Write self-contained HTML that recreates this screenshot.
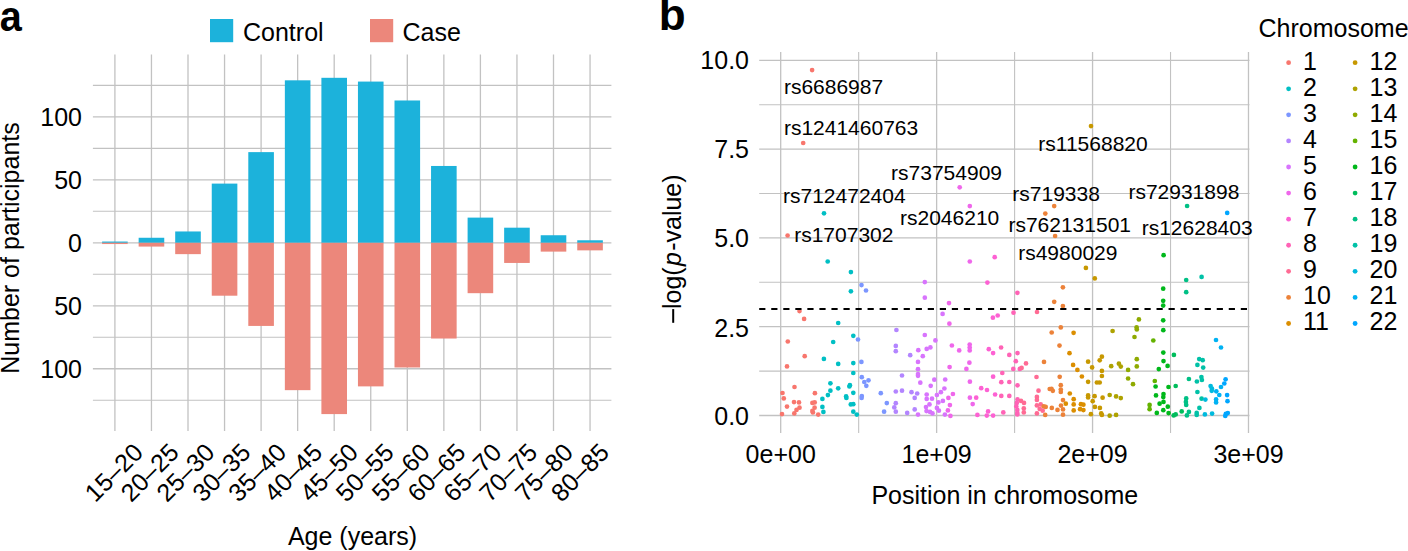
<!DOCTYPE html>
<html><head><meta charset="utf-8"><style>
html,body{margin:0;padding:0;background:#fff;}
svg{display:block;}
text{font-family:"Liberation Sans",sans-serif;fill:#000;}
</style></head><body>
<svg width="1408" height="551" viewBox="0 0 1408 551">
<rect width="1408" height="551" fill="#fff"/>
<path d="M92.9 85.36H611.4 M92.9 148.34H611.4 M92.9 211.31H611.4 M92.9 274.29H611.4 M92.9 337.26H611.4 M92.9 400.24H611.4" stroke="#C2C2C2" stroke-width="1.1" fill="none"/>
<path d="M92.9 116.85H611.4 M92.9 179.83H611.4 M92.9 242.80H611.4 M92.9 305.78H611.4 M92.9 368.75H611.4 M114.90 54.4V430.9 M151.45 54.4V430.9 M188.00 54.4V430.9 M224.55 54.4V430.9 M261.10 54.4V430.9 M297.65 54.4V430.9 M334.20 54.4V430.9 M370.75 54.4V430.9 M407.30 54.4V430.9 M443.85 54.4V430.9 M480.40 54.4V430.9 M516.95 54.4V430.9 M553.50 54.4V430.9 M590.05 54.4V430.9" stroke="#C2C2C2" stroke-width="1.3" fill="none"/>
<rect x="102.10" y="241.54" width="25.6" height="1.26" fill="#1CB2DB"/>
<rect x="102.10" y="242.80" width="25.6" height="1.26" fill="#EC877B"/>
<rect x="138.65" y="237.76" width="25.6" height="5.04" fill="#1CB2DB"/>
<rect x="138.65" y="242.80" width="25.6" height="3.78" fill="#EC877B"/>
<rect x="175.20" y="231.46" width="25.6" height="11.34" fill="#1CB2DB"/>
<rect x="175.20" y="242.80" width="25.6" height="11.34" fill="#EC877B"/>
<rect x="211.75" y="183.60" width="25.6" height="59.20" fill="#1CB2DB"/>
<rect x="211.75" y="242.80" width="25.6" height="52.90" fill="#EC877B"/>
<rect x="248.30" y="152.12" width="25.6" height="90.68" fill="#1CB2DB"/>
<rect x="248.30" y="242.80" width="25.6" height="83.13" fill="#EC877B"/>
<rect x="284.85" y="80.32" width="25.6" height="162.48" fill="#1CB2DB"/>
<rect x="284.85" y="242.80" width="25.6" height="147.36" fill="#EC877B"/>
<rect x="321.40" y="77.81" width="25.6" height="164.99" fill="#1CB2DB"/>
<rect x="321.40" y="242.80" width="25.6" height="171.29" fill="#EC877B"/>
<rect x="357.95" y="81.58" width="25.6" height="161.22" fill="#1CB2DB"/>
<rect x="357.95" y="242.80" width="25.6" height="143.58" fill="#EC877B"/>
<rect x="394.50" y="100.48" width="25.6" height="142.32" fill="#1CB2DB"/>
<rect x="394.50" y="242.80" width="25.6" height="124.69" fill="#EC877B"/>
<rect x="431.05" y="165.97" width="25.6" height="76.83" fill="#1CB2DB"/>
<rect x="431.05" y="242.80" width="25.6" height="95.72" fill="#EC877B"/>
<rect x="467.60" y="217.61" width="25.6" height="25.19" fill="#1CB2DB"/>
<rect x="467.60" y="242.80" width="25.6" height="50.38" fill="#EC877B"/>
<rect x="504.15" y="227.69" width="25.6" height="15.11" fill="#1CB2DB"/>
<rect x="504.15" y="242.80" width="25.6" height="20.15" fill="#EC877B"/>
<rect x="540.70" y="235.24" width="25.6" height="7.56" fill="#1CB2DB"/>
<rect x="540.70" y="242.80" width="25.6" height="8.82" fill="#EC877B"/>
<rect x="577.25" y="240.28" width="25.6" height="2.52" fill="#1CB2DB"/>
<rect x="577.25" y="242.80" width="25.6" height="7.56" fill="#EC877B"/>
<text x="82.00" y="125.65" font-size="25" text-anchor="end" >100</text>
<text x="82.00" y="188.63" font-size="25" text-anchor="end" >50</text>
<text x="82.00" y="251.60" font-size="25" text-anchor="end" >0</text>
<text x="82.00" y="314.58" font-size="25" text-anchor="end" >50</text>
<text x="82.00" y="377.55" font-size="25" text-anchor="end" >100</text>
<text x="144.50" y="454.00" font-size="25" text-anchor="end" transform="rotate(-45 144.50 454.00)">15–20</text>
<text x="180.35" y="454.00" font-size="25" text-anchor="end" transform="rotate(-45 180.35 454.00)">20–25</text>
<text x="216.20" y="454.00" font-size="25" text-anchor="end" transform="rotate(-45 216.20 454.00)">25–30</text>
<text x="252.05" y="454.00" font-size="25" text-anchor="end" transform="rotate(-45 252.05 454.00)">30–35</text>
<text x="287.90" y="454.00" font-size="25" text-anchor="end" transform="rotate(-45 287.90 454.00)">35–40</text>
<text x="323.75" y="454.00" font-size="25" text-anchor="end" transform="rotate(-45 323.75 454.00)">40–45</text>
<text x="359.60" y="454.00" font-size="25" text-anchor="end" transform="rotate(-45 359.60 454.00)">45–50</text>
<text x="395.45" y="454.00" font-size="25" text-anchor="end" transform="rotate(-45 395.45 454.00)">50–55</text>
<text x="431.30" y="454.00" font-size="25" text-anchor="end" transform="rotate(-45 431.30 454.00)">55–60</text>
<text x="467.15" y="454.00" font-size="25" text-anchor="end" transform="rotate(-45 467.15 454.00)">60–65</text>
<text x="503.00" y="454.00" font-size="25" text-anchor="end" transform="rotate(-45 503.00 454.00)">65–70</text>
<text x="538.85" y="454.00" font-size="25" text-anchor="end" transform="rotate(-45 538.85 454.00)">70–75</text>
<text x="574.70" y="454.00" font-size="25" text-anchor="end" transform="rotate(-45 574.70 454.00)">75–80</text>
<text x="610.55" y="454.00" font-size="25" text-anchor="end" transform="rotate(-45 610.55 454.00)">80–85</text>
<text x="352.50" y="544.70" font-size="25" text-anchor="middle" >Age (years)</text>
<text x="19.0" y="248" font-size="25" text-anchor="middle" transform="rotate(-90 19.0 248)">Number of participants</text>
<rect x="210" y="19" width="23.2" height="23.2" fill="#1CB2DB"/>
<text x="243.00" y="41.00" font-size="25" text-anchor="start" >Control</text>
<rect x="370" y="19" width="23.2" height="23.2" fill="#EC877B"/>
<text x="402.50" y="41.00" font-size="25" text-anchor="start" >Case</text>
<text x="0" y="0" font-size="44" font-weight="bold" transform="translate(-0.3,30.9) scale(0.9,0.98)">a</text>
<path d="M759.2 371.10H1249.5 M759.2 282.30H1249.5 M759.2 193.50H1249.5 M759.2 104.70H1249.5 M858.67 52.0V432.9 M1014.60 52.0V432.9 M1170.53 52.0V432.9" stroke="#C2C2C2" stroke-width="1.1" fill="none"/>
<path d="M759.2 415.50H1249.5 M759.2 326.70H1249.5 M759.2 237.90H1249.5 M759.2 149.10H1249.5 M759.2 60.30H1249.5 M780.70 52.0V432.9 M936.63 52.0V432.9 M1092.56 52.0V432.9 M1248.49 52.0V432.9" stroke="#C2C2C2" stroke-width="1.3" fill="none"/>
<text x="749.00" y="425.35" font-size="25" text-anchor="end" >0.0</text>
<text x="749.00" y="336.55" font-size="25" text-anchor="end" >2.5</text>
<text x="749.00" y="246.50" font-size="25" text-anchor="end" >5.0</text>
<text x="749.00" y="157.70" font-size="25" text-anchor="end" >7.5</text>
<text x="749.00" y="68.90" font-size="25" text-anchor="end" >10.0</text>
<text x="780.70" y="463.40" font-size="25" text-anchor="middle" >0e+00</text>
<text x="936.63" y="463.40" font-size="25" text-anchor="middle" >1e+09</text>
<text x="1092.56" y="463.40" font-size="25" text-anchor="middle" >2e+09</text>
<text x="1248.49" y="463.40" font-size="25" text-anchor="middle" >3e+09</text>
<text x="1004.80" y="503.60" font-size="25" text-anchor="middle" >Position in chromosome</text>
<rect x="672.2" y="309.1" width="2" height="13.7" fill="#000"/>
<text x="681" y="309" font-size="25" text-anchor="start" transform="rotate(-90 681 309)">log(<tspan font-style="italic" dx="1.3">p</tspan><tspan dx="1.3">-value)</tspan></text>
<text x="658.70" y="30.00" font-size="44" text-anchor="start" font-weight="bold">b</text>
<circle cx="812.1" cy="70.1" r="2.35" fill="#F8766D"/>
<circle cx="803.2" cy="143.0" r="2.35" fill="#F8766D"/>
<circle cx="1091.0" cy="126.1" r="2.35" fill="#C79800"/>
<circle cx="959.7" cy="187.3" r="2.35" fill="#EF67EB"/>
<circle cx="969.8" cy="206.1" r="2.35" fill="#EF67EB"/>
<circle cx="824.0" cy="213.3" r="2.35" fill="#00BFC4"/>
<circle cx="787.6" cy="235.5" r="2.35" fill="#F8766D"/>
<circle cx="1054.2" cy="206.1" r="2.35" fill="#EC8239"/>
<circle cx="1045.3" cy="213.6" r="2.35" fill="#EC8239"/>
<circle cx="1055.1" cy="236.0" r="2.35" fill="#EC8239"/>
<circle cx="1187.1" cy="206.0" r="2.35" fill="#00C085"/>
<circle cx="1227.2" cy="212.9" r="2.35" fill="#00A6FF"/>
<circle cx="827.7" cy="261.5" r="2.35" fill="#00BFC4"/>
<circle cx="850.9" cy="272.1" r="2.35" fill="#00BFC4"/>
<circle cx="850.9" cy="291.3" r="2.35" fill="#00BFC4"/>
<circle cx="861.5" cy="285.1" r="2.35" fill="#7C96FF"/>
<circle cx="866.0" cy="290.5" r="2.35" fill="#7C96FF"/>
<circle cx="924.8" cy="282.1" r="2.35" fill="#D874FD"/>
<circle cx="924.8" cy="297.7" r="2.35" fill="#D874FD"/>
<circle cx="799.5" cy="311.1" r="2.35" fill="#F8766D"/>
<circle cx="804.1" cy="318.9" r="2.35" fill="#F8766D"/>
<circle cx="838.2" cy="323.0" r="2.35" fill="#00BFC4"/>
<circle cx="949.0" cy="303.1" r="2.35" fill="#EF67EB"/>
<circle cx="942.6" cy="313.9" r="2.35" fill="#D874FD"/>
<circle cx="949.4" cy="323.7" r="2.35" fill="#EF67EB"/>
<circle cx="969.8" cy="261.5" r="2.35" fill="#EF67EB"/>
<circle cx="994.7" cy="257.2" r="2.35" fill="#FD61D3"/>
<circle cx="987.4" cy="282.6" r="2.35" fill="#FD61D3"/>
<circle cx="992.9" cy="317.7" r="2.35" fill="#FD61D3"/>
<circle cx="997.7" cy="315.5" r="2.35" fill="#FD61D3"/>
<circle cx="1085.9" cy="267.9" r="2.35" fill="#C79800"/>
<circle cx="1094.8" cy="278.4" r="2.35" fill="#C79800"/>
<circle cx="1062.9" cy="287.3" r="2.35" fill="#EC8239"/>
<circle cx="1017.4" cy="292.8" r="2.35" fill="#FF63B6"/>
<circle cx="1054.2" cy="301.8" r="2.35" fill="#EC8239"/>
<circle cx="1062.9" cy="306.1" r="2.35" fill="#EC8239"/>
<circle cx="1013.5" cy="312.7" r="2.35" fill="#FF63B6"/>
<circle cx="1037.0" cy="312.0" r="2.35" fill="#FF6B94"/>
<circle cx="1163.6" cy="255.2" r="2.35" fill="#00B81B"/>
<circle cx="1163.2" cy="288.7" r="2.35" fill="#00B81B"/>
<circle cx="1163.2" cy="300.8" r="2.35" fill="#00B81B"/>
<circle cx="1163.2" cy="305.6" r="2.35" fill="#00B81B"/>
<circle cx="1163.2" cy="320.3" r="2.35" fill="#00B81B"/>
<circle cx="1138.9" cy="319.4" r="2.35" fill="#8FAA00"/>
<circle cx="1136.6" cy="327.4" r="2.35" fill="#8FAA00"/>
<circle cx="1186.2" cy="280.0" r="2.35" fill="#00C085"/>
<circle cx="1201.6" cy="276.9" r="2.35" fill="#00C1A7"/>
<circle cx="1186.2" cy="292.2" r="2.35" fill="#00C085"/>
<circle cx="1060.8" cy="327.4" r="2.35" fill="#EC8239"/>
<circle cx="896.4" cy="330.0" r="2.35" fill="#B385FF"/>
<circle cx="853.3" cy="335.8" r="2.35" fill="#00BFC4"/>
<circle cx="858.0" cy="339.5" r="2.35" fill="#7C96FF"/>
<circle cx="787.8" cy="341.5" r="2.35" fill="#F8766D"/>
<circle cx="833.2" cy="342.0" r="2.35" fill="#00BFC4"/>
<circle cx="895.8" cy="345.9" r="2.35" fill="#B385FF"/>
<circle cx="895.8" cy="351.2" r="2.35" fill="#B385FF"/>
<circle cx="910.2" cy="355.2" r="2.35" fill="#B385FF"/>
<circle cx="804.7" cy="356.2" r="2.35" fill="#F8766D"/>
<circle cx="823.9" cy="358.9" r="2.35" fill="#00BFC4"/>
<circle cx="838.2" cy="363.9" r="2.35" fill="#00BFC4"/>
<circle cx="853.3" cy="363.1" r="2.35" fill="#00BFC4"/>
<circle cx="861.4" cy="361.9" r="2.35" fill="#7C96FF"/>
<circle cx="787.0" cy="366.4" r="2.35" fill="#F8766D"/>
<circle cx="924.8" cy="335.0" r="2.35" fill="#D874FD"/>
<circle cx="935.4" cy="340.4" r="2.35" fill="#D874FD"/>
<circle cx="918.3" cy="350.2" r="2.35" fill="#D874FD"/>
<circle cx="926.7" cy="348.9" r="2.35" fill="#D874FD"/>
<circle cx="930.4" cy="347.4" r="2.35" fill="#D874FD"/>
<circle cx="922.8" cy="356.2" r="2.35" fill="#D874FD"/>
<circle cx="918.0" cy="361.9" r="2.35" fill="#D874FD"/>
<circle cx="918.0" cy="369.2" r="2.35" fill="#D874FD"/>
<circle cx="951.9" cy="345.5" r="2.35" fill="#EF67EB"/>
<circle cx="959.2" cy="350.4" r="2.35" fill="#EF67EB"/>
<circle cx="969.7" cy="344.5" r="2.35" fill="#EF67EB"/>
<circle cx="969.7" cy="347.5" r="2.35" fill="#EF67EB"/>
<circle cx="969.7" cy="350.4" r="2.35" fill="#EF67EB"/>
<circle cx="969.4" cy="362.7" r="2.35" fill="#EF67EB"/>
<circle cx="949.6" cy="367.1" r="2.35" fill="#EF67EB"/>
<circle cx="966.4" cy="368.9" r="2.35" fill="#EF67EB"/>
<circle cx="988.8" cy="349.2" r="2.35" fill="#FD61D3"/>
<circle cx="993.1" cy="353.1" r="2.35" fill="#FD61D3"/>
<circle cx="1001.1" cy="347.5" r="2.35" fill="#FF63B6"/>
<circle cx="1009.3" cy="354.9" r="2.35" fill="#FF63B6"/>
<circle cx="1017.5" cy="353.1" r="2.35" fill="#FF63B6"/>
<circle cx="1015.8" cy="361.2" r="2.35" fill="#FF63B6"/>
<circle cx="1026.0" cy="363.4" r="2.35" fill="#FF6B94"/>
<circle cx="1013.3" cy="368.9" r="2.35" fill="#FF63B6"/>
<circle cx="1019.8" cy="368.9" r="2.35" fill="#FF63B6"/>
<circle cx="1021.6" cy="367.9" r="2.35" fill="#FF6B94"/>
<circle cx="1044.0" cy="361.9" r="2.35" fill="#EC8239"/>
<circle cx="1051.7" cy="332.5" r="2.35" fill="#EC8239"/>
<circle cx="1073.6" cy="332.8" r="2.35" fill="#DB8E00"/>
<circle cx="1059.5" cy="345.6" r="2.35" fill="#EC8239"/>
<circle cx="1069.5" cy="353.2" r="2.35" fill="#DB8E00"/>
<circle cx="1073.1" cy="364.9" r="2.35" fill="#DB8E00"/>
<circle cx="1077.4" cy="369.9" r="2.35" fill="#DB8E00"/>
<circle cx="1088.1" cy="361.7" r="2.35" fill="#C79800"/>
<circle cx="1092.1" cy="367.4" r="2.35" fill="#C79800"/>
<circle cx="1101.9" cy="356.7" r="2.35" fill="#C79800"/>
<circle cx="1099.7" cy="360.3" r="2.35" fill="#C79800"/>
<circle cx="1101.9" cy="370.9" r="2.35" fill="#C79800"/>
<circle cx="1112.6" cy="331.0" r="2.35" fill="#AEA200"/>
<circle cx="1111.2" cy="366.2" r="2.35" fill="#AEA200"/>
<circle cx="1118.9" cy="363.7" r="2.35" fill="#AEA200"/>
<circle cx="1120.8" cy="366.6" r="2.35" fill="#AEA200"/>
<circle cx="1128.1" cy="369.9" r="2.35" fill="#8FAA00"/>
<circle cx="1136.8" cy="329.5" r="2.35" fill="#8FAA00"/>
<circle cx="1134.5" cy="337.0" r="2.35" fill="#8FAA00"/>
<circle cx="1136.8" cy="359.2" r="2.35" fill="#8FAA00"/>
<circle cx="1136.8" cy="366.4" r="2.35" fill="#8FAA00"/>
<circle cx="1153.3" cy="340.5" r="2.35" fill="#64B200"/>
<circle cx="1163.3" cy="330.2" r="2.35" fill="#00B81B"/>
<circle cx="1163.3" cy="352.6" r="2.35" fill="#00B81B"/>
<circle cx="1163.5" cy="361.1" r="2.35" fill="#00B81B"/>
<circle cx="1167.6" cy="365.9" r="2.35" fill="#00B81B"/>
<circle cx="1158.8" cy="369.1" r="2.35" fill="#00B81B"/>
<circle cx="1173.9" cy="354.9" r="2.35" fill="#00BD5C"/>
<circle cx="1216.0" cy="340.0" r="2.35" fill="#00B2F3"/>
<circle cx="1221.0" cy="347.5" r="2.35" fill="#00B2F3"/>
<circle cx="1199.2" cy="359.1" r="2.35" fill="#00C1A7"/>
<circle cx="1202.7" cy="360.2" r="2.35" fill="#00C1A7"/>
<circle cx="1197.4" cy="364.9" r="2.35" fill="#00C1A7"/>
<circle cx="1203.2" cy="367.6" r="2.35" fill="#00C1A7"/>
<circle cx="794.5" cy="387.0" r="2.35" fill="#F8766D"/>
<circle cx="782.5" cy="393.0" r="2.35" fill="#F8766D"/>
<circle cx="783.8" cy="398.4" r="2.35" fill="#F8766D"/>
<circle cx="794.0" cy="402.1" r="2.35" fill="#F8766D"/>
<circle cx="799.0" cy="402.4" r="2.35" fill="#F8766D"/>
<circle cx="787.0" cy="406.6" r="2.35" fill="#F8766D"/>
<circle cx="799.5" cy="407.7" r="2.35" fill="#F8766D"/>
<circle cx="796.5" cy="409.9" r="2.35" fill="#F8766D"/>
<circle cx="794.3" cy="413.4" r="2.35" fill="#F8766D"/>
<circle cx="782.0" cy="414.1" r="2.35" fill="#F8766D"/>
<circle cx="814.9" cy="393.2" r="2.35" fill="#F8766D"/>
<circle cx="812.4" cy="402.9" r="2.35" fill="#F8766D"/>
<circle cx="814.7" cy="402.4" r="2.35" fill="#F8766D"/>
<circle cx="814.6" cy="407.7" r="2.35" fill="#F8766D"/>
<circle cx="812.4" cy="410.9" r="2.35" fill="#F8766D"/>
<circle cx="812.9" cy="412.4" r="2.35" fill="#F8766D"/>
<circle cx="818.2" cy="414.6" r="2.35" fill="#F8766D"/>
<circle cx="853.3" cy="373.0" r="2.35" fill="#00BFC4"/>
<circle cx="830.4" cy="383.3" r="2.35" fill="#00BFC4"/>
<circle cx="838.2" cy="388.3" r="2.35" fill="#00BFC4"/>
<circle cx="830.4" cy="390.7" r="2.35" fill="#00BFC4"/>
<circle cx="827.9" cy="395.1" r="2.35" fill="#00BFC4"/>
<circle cx="822.4" cy="398.9" r="2.35" fill="#00BFC4"/>
<circle cx="822.4" cy="406.9" r="2.35" fill="#00BFC4"/>
<circle cx="823.4" cy="411.9" r="2.35" fill="#00BFC4"/>
<circle cx="849.9" cy="385.2" r="2.35" fill="#00BFC4"/>
<circle cx="849.4" cy="386.5" r="2.35" fill="#00BFC4"/>
<circle cx="853.3" cy="392.8" r="2.35" fill="#00BFC4"/>
<circle cx="846.1" cy="396.4" r="2.35" fill="#00BFC4"/>
<circle cx="846.4" cy="397.9" r="2.35" fill="#00BFC4"/>
<circle cx="850.8" cy="404.4" r="2.35" fill="#00BFC4"/>
<circle cx="853.3" cy="404.2" r="2.35" fill="#00BFC4"/>
<circle cx="853.3" cy="411.7" r="2.35" fill="#00BFC4"/>
<circle cx="856.8" cy="414.6" r="2.35" fill="#00BFC4"/>
<circle cx="861.8" cy="377.2" r="2.35" fill="#7C96FF"/>
<circle cx="864.3" cy="382.0" r="2.35" fill="#7C96FF"/>
<circle cx="868.5" cy="380.3" r="2.35" fill="#7C96FF"/>
<circle cx="866.3" cy="385.8" r="2.35" fill="#7C96FF"/>
<circle cx="861.8" cy="396.1" r="2.35" fill="#7C96FF"/>
<circle cx="861.6" cy="397.9" r="2.35" fill="#7C96FF"/>
<circle cx="880.8" cy="393.2" r="2.35" fill="#7C96FF"/>
<circle cx="886.8" cy="403.1" r="2.35" fill="#7C96FF"/>
<circle cx="884.1" cy="411.7" r="2.35" fill="#7C96FF"/>
<circle cx="902.0" cy="375.5" r="2.35" fill="#B385FF"/>
<circle cx="895.8" cy="391.5" r="2.35" fill="#B385FF"/>
<circle cx="902.0" cy="390.7" r="2.35" fill="#B385FF"/>
<circle cx="911.5" cy="392.2" r="2.35" fill="#B385FF"/>
<circle cx="914.7" cy="397.9" r="2.35" fill="#B385FF"/>
<circle cx="895.8" cy="403.2" r="2.35" fill="#B385FF"/>
<circle cx="894.3" cy="407.4" r="2.35" fill="#B385FF"/>
<circle cx="895.8" cy="411.7" r="2.35" fill="#B385FF"/>
<circle cx="907.2" cy="412.9" r="2.35" fill="#B385FF"/>
<circle cx="914.7" cy="409.4" r="2.35" fill="#B385FF"/>
<circle cx="918.0" cy="374.0" r="2.35" fill="#D874FD"/>
<circle cx="918.0" cy="375.8" r="2.35" fill="#D874FD"/>
<circle cx="920.3" cy="382.7" r="2.35" fill="#D874FD"/>
<circle cx="934.3" cy="379.7" r="2.35" fill="#D874FD"/>
<circle cx="930.7" cy="385.8" r="2.35" fill="#D874FD"/>
<circle cx="917.2" cy="393.5" r="2.35" fill="#B385FF"/>
<circle cx="918.0" cy="414.6" r="2.35" fill="#D874FD"/>
<circle cx="926.7" cy="394.5" r="2.35" fill="#D874FD"/>
<circle cx="926.7" cy="398.9" r="2.35" fill="#D874FD"/>
<circle cx="932.0" cy="398.7" r="2.35" fill="#D874FD"/>
<circle cx="929.5" cy="404.4" r="2.35" fill="#D874FD"/>
<circle cx="926.0" cy="407.1" r="2.35" fill="#D874FD"/>
<circle cx="926.5" cy="411.1" r="2.35" fill="#D874FD"/>
<circle cx="930.0" cy="411.9" r="2.35" fill="#D874FD"/>
<circle cx="932.5" cy="413.4" r="2.35" fill="#D874FD"/>
<circle cx="936.9" cy="395.0" r="2.35" fill="#D874FD"/>
<circle cx="940.9" cy="392.2" r="2.35" fill="#D874FD"/>
<circle cx="944.4" cy="388.5" r="2.35" fill="#D874FD"/>
<circle cx="945.2" cy="379.5" r="2.35" fill="#D874FD"/>
<circle cx="952.9" cy="394.0" r="2.35" fill="#EF67EB"/>
<circle cx="948.4" cy="397.9" r="2.35" fill="#EF67EB"/>
<circle cx="942.9" cy="400.9" r="2.35" fill="#D874FD"/>
<circle cx="938.4" cy="402.4" r="2.35" fill="#D874FD"/>
<circle cx="949.9" cy="405.1" r="2.35" fill="#EF67EB"/>
<circle cx="936.9" cy="407.9" r="2.35" fill="#D874FD"/>
<circle cx="938.9" cy="410.7" r="2.35" fill="#D874FD"/>
<circle cx="947.9" cy="410.4" r="2.35" fill="#EF67EB"/>
<circle cx="944.9" cy="414.6" r="2.35" fill="#D874FD"/>
<circle cx="950.4" cy="415.9" r="2.35" fill="#EF67EB"/>
<circle cx="969.9" cy="381.7" r="2.35" fill="#EF67EB"/>
<circle cx="969.9" cy="397.7" r="2.35" fill="#EF67EB"/>
<circle cx="976.2" cy="397.7" r="2.35" fill="#FD61D3"/>
<circle cx="972.7" cy="404.1" r="2.35" fill="#EF67EB"/>
<circle cx="981.2" cy="388.2" r="2.35" fill="#FD61D3"/>
<circle cx="987.0" cy="390.0" r="2.35" fill="#FD61D3"/>
<circle cx="977.4" cy="414.9" r="2.35" fill="#FD61D3"/>
<circle cx="988.1" cy="411.4" r="2.35" fill="#FD61D3"/>
<circle cx="986.8" cy="415.6" r="2.35" fill="#FD61D3"/>
<circle cx="993.1" cy="415.6" r="2.35" fill="#FD61D3"/>
<circle cx="993.1" cy="376.7" r="2.35" fill="#FD61D3"/>
<circle cx="1002.3" cy="373.0" r="2.35" fill="#FF63B6"/>
<circle cx="1001.3" cy="382.2" r="2.35" fill="#FF63B6"/>
<circle cx="1009.3" cy="382.0" r="2.35" fill="#FF63B6"/>
<circle cx="995.1" cy="394.5" r="2.35" fill="#FD61D3"/>
<circle cx="1001.3" cy="395.9" r="2.35" fill="#FF63B6"/>
<circle cx="1009.3" cy="395.9" r="2.35" fill="#FF63B6"/>
<circle cx="1003.3" cy="412.4" r="2.35" fill="#FF63B6"/>
<circle cx="1017.5" cy="385.3" r="2.35" fill="#FF63B6"/>
<circle cx="1017.5" cy="399.4" r="2.35" fill="#FF63B6"/>
<circle cx="1016.8" cy="402.9" r="2.35" fill="#FF63B6"/>
<circle cx="1016.3" cy="406.4" r="2.35" fill="#FF63B6"/>
<circle cx="1017.3" cy="409.9" r="2.35" fill="#FF63B6"/>
<circle cx="1017.3" cy="412.9" r="2.35" fill="#FF63B6"/>
<circle cx="1017.3" cy="414.4" r="2.35" fill="#FF63B6"/>
<circle cx="1021.0" cy="400.9" r="2.35" fill="#FF6B94"/>
<circle cx="1024.0" cy="402.9" r="2.35" fill="#FF6B94"/>
<circle cx="1023.8" cy="408.4" r="2.35" fill="#FF6B94"/>
<circle cx="1023.8" cy="412.4" r="2.35" fill="#FF6B94"/>
<circle cx="1036.5" cy="377.0" r="2.35" fill="#FF6B94"/>
<circle cx="1038.5" cy="390.7" r="2.35" fill="#FF6B94"/>
<circle cx="1036.9" cy="396.9" r="2.35" fill="#FF6B94"/>
<circle cx="1036.9" cy="399.9" r="2.35" fill="#FF6B94"/>
<circle cx="1036.9" cy="405.4" r="2.35" fill="#FF6B94"/>
<circle cx="1040.7" cy="404.4" r="2.35" fill="#FF6B94"/>
<circle cx="1039.7" cy="408.9" r="2.35" fill="#FF6B94"/>
<circle cx="1036.9" cy="413.4" r="2.35" fill="#FF6B94"/>
<circle cx="1043.7" cy="406.4" r="2.35" fill="#EC8239"/>
<circle cx="1045.7" cy="406.9" r="2.35" fill="#EC8239"/>
<circle cx="1042.7" cy="410.7" r="2.35" fill="#FF6B94"/>
<circle cx="1045.2" cy="414.9" r="2.35" fill="#EC8239"/>
<circle cx="1049.7" cy="389.0" r="2.35" fill="#EC8239"/>
<circle cx="1059.7" cy="376.8" r="2.35" fill="#EC8239"/>
<circle cx="1081.9" cy="376.5" r="2.35" fill="#DB8E00"/>
<circle cx="1088.1" cy="381.8" r="2.35" fill="#C79800"/>
<circle cx="1060.8" cy="385.2" r="2.35" fill="#EC8239"/>
<circle cx="1051.5" cy="388.8" r="2.35" fill="#EC8239"/>
<circle cx="1052.8" cy="390.8" r="2.35" fill="#EC8239"/>
<circle cx="1060.8" cy="389.5" r="2.35" fill="#EC8239"/>
<circle cx="1060.8" cy="392.0" r="2.35" fill="#EC8239"/>
<circle cx="1069.8" cy="393.5" r="2.35" fill="#DB8E00"/>
<circle cx="1063.0" cy="400.1" r="2.35" fill="#EC8239"/>
<circle cx="1065.8" cy="403.7" r="2.35" fill="#DB8E00"/>
<circle cx="1073.7" cy="399.2" r="2.35" fill="#DB8E00"/>
<circle cx="1073.7" cy="404.4" r="2.35" fill="#DB8E00"/>
<circle cx="1080.9" cy="404.2" r="2.35" fill="#DB8E00"/>
<circle cx="1083.4" cy="404.7" r="2.35" fill="#DB8E00"/>
<circle cx="1061.0" cy="405.6" r="2.35" fill="#EC8239"/>
<circle cx="1051.8" cy="407.9" r="2.35" fill="#EC8239"/>
<circle cx="1057.5" cy="409.9" r="2.35" fill="#EC8239"/>
<circle cx="1063.0" cy="409.4" r="2.35" fill="#EC8239"/>
<circle cx="1073.7" cy="410.4" r="2.35" fill="#DB8E00"/>
<circle cx="1080.1" cy="409.2" r="2.35" fill="#DB8E00"/>
<circle cx="1083.4" cy="410.1" r="2.35" fill="#DB8E00"/>
<circle cx="1063.0" cy="414.7" r="2.35" fill="#EC8239"/>
<circle cx="1090.9" cy="414.2" r="2.35" fill="#C79800"/>
<circle cx="1101.9" cy="376.0" r="2.35" fill="#C79800"/>
<circle cx="1096.9" cy="382.5" r="2.35" fill="#C79800"/>
<circle cx="1099.7" cy="382.5" r="2.35" fill="#C79800"/>
<circle cx="1088.1" cy="395.4" r="2.35" fill="#C79800"/>
<circle cx="1088.1" cy="397.4" r="2.35" fill="#C79800"/>
<circle cx="1094.6" cy="396.2" r="2.35" fill="#C79800"/>
<circle cx="1102.6" cy="397.7" r="2.35" fill="#C79800"/>
<circle cx="1092.7" cy="401.2" r="2.35" fill="#C79800"/>
<circle cx="1094.9" cy="406.9" r="2.35" fill="#C79800"/>
<circle cx="1099.9" cy="407.9" r="2.35" fill="#C79800"/>
<circle cx="1101.2" cy="413.4" r="2.35" fill="#C79800"/>
<circle cx="1101.9" cy="414.9" r="2.35" fill="#C79800"/>
<circle cx="1109.7" cy="395.0" r="2.35" fill="#AEA200"/>
<circle cx="1116.1" cy="396.4" r="2.35" fill="#AEA200"/>
<circle cx="1120.8" cy="398.1" r="2.35" fill="#AEA200"/>
<circle cx="1109.7" cy="415.7" r="2.35" fill="#AEA200"/>
<circle cx="1116.1" cy="414.9" r="2.35" fill="#AEA200"/>
<circle cx="1128.1" cy="378.5" r="2.35" fill="#8FAA00"/>
<circle cx="1133.0" cy="384.2" r="2.35" fill="#8FAA00"/>
<circle cx="1154.8" cy="381.0" r="2.35" fill="#64B200"/>
<circle cx="1149.6" cy="404.9" r="2.35" fill="#64B200"/>
<circle cx="1149.6" cy="409.2" r="2.35" fill="#64B200"/>
<circle cx="1155.6" cy="386.5" r="2.35" fill="#00B81B"/>
<circle cx="1168.5" cy="387.0" r="2.35" fill="#00B81B"/>
<circle cx="1156.0" cy="395.4" r="2.35" fill="#00B81B"/>
<circle cx="1163.5" cy="394.0" r="2.35" fill="#00B81B"/>
<circle cx="1163.3" cy="397.1" r="2.35" fill="#00B81B"/>
<circle cx="1163.5" cy="401.9" r="2.35" fill="#00B81B"/>
<circle cx="1159.6" cy="403.7" r="2.35" fill="#00B81B"/>
<circle cx="1167.8" cy="406.7" r="2.35" fill="#00B81B"/>
<circle cx="1163.3" cy="410.2" r="2.35" fill="#00B81B"/>
<circle cx="1156.8" cy="412.9" r="2.35" fill="#00B81B"/>
<circle cx="1168.6" cy="413.1" r="2.35" fill="#00B81B"/>
<circle cx="1175.7" cy="386.0" r="2.35" fill="#00BD5C"/>
<circle cx="1181.7" cy="411.4" r="2.35" fill="#00BD5C"/>
<circle cx="1173.7" cy="415.4" r="2.35" fill="#00BD5C"/>
<circle cx="1175.7" cy="414.4" r="2.35" fill="#00BD5C"/>
<circle cx="1186.2" cy="398.4" r="2.35" fill="#00C085"/>
<circle cx="1185.9" cy="401.9" r="2.35" fill="#00C085"/>
<circle cx="1186.2" cy="404.9" r="2.35" fill="#00C085"/>
<circle cx="1188.9" cy="411.9" r="2.35" fill="#00C085"/>
<circle cx="1186.9" cy="415.4" r="2.35" fill="#00C085"/>
<circle cx="1188.9" cy="379.0" r="2.35" fill="#00C085"/>
<circle cx="1196.9" cy="381.5" r="2.35" fill="#00C1A7"/>
<circle cx="1201.4" cy="377.0" r="2.35" fill="#00C1A7"/>
<circle cx="1201.9" cy="380.0" r="2.35" fill="#00C1A7"/>
<circle cx="1197.4" cy="392.0" r="2.35" fill="#00C1A7"/>
<circle cx="1201.6" cy="398.7" r="2.35" fill="#00C1A7"/>
<circle cx="1205.4" cy="399.6" r="2.35" fill="#00BADE"/>
<circle cx="1199.4" cy="407.9" r="2.35" fill="#00C1A7"/>
<circle cx="1196.7" cy="412.9" r="2.35" fill="#00C1A7"/>
<circle cx="1196.7" cy="414.9" r="2.35" fill="#00C1A7"/>
<circle cx="1204.9" cy="414.4" r="2.35" fill="#00BADE"/>
<circle cx="1210.6" cy="386.0" r="2.35" fill="#00BADE"/>
<circle cx="1211.9" cy="388.5" r="2.35" fill="#00BADE"/>
<circle cx="1211.7" cy="390.8" r="2.35" fill="#00BADE"/>
<circle cx="1216.3" cy="391.3" r="2.35" fill="#00B2F3"/>
<circle cx="1219.3" cy="395.0" r="2.35" fill="#00B2F3"/>
<circle cx="1216.1" cy="399.4" r="2.35" fill="#00B2F3"/>
<circle cx="1216.1" cy="402.4" r="2.35" fill="#00B2F3"/>
<circle cx="1212.1" cy="413.6" r="2.35" fill="#00BADE"/>
<circle cx="1221.0" cy="387.0" r="2.35" fill="#00B2F3"/>
<circle cx="1224.3" cy="383.5" r="2.35" fill="#00A6FF"/>
<circle cx="1225.6" cy="379.3" r="2.35" fill="#00A6FF"/>
<circle cx="1227.1" cy="395.1" r="2.35" fill="#00A6FF"/>
<circle cx="1227.5" cy="401.2" r="2.35" fill="#00A6FF"/>
<circle cx="1225.8" cy="413.9" r="2.35" fill="#00A6FF"/>
<circle cx="1227.8" cy="413.1" r="2.35" fill="#00A6FF"/>
<circle cx="1225.3" cy="415.9" r="2.35" fill="#00A6FF"/>
<text x="783.90" y="93.60" font-size="21" text-anchor="start" >rs6686987</text>
<text x="783.90" y="134.50" font-size="21" text-anchor="start" >rs1241460763</text>
<text x="1038.30" y="150.70" font-size="21" text-anchor="start" >rs11568820</text>
<text x="891.10" y="179.50" font-size="21" text-anchor="start" >rs73754909</text>
<text x="783.00" y="203.10" font-size="21" text-anchor="start" >rs712472404</text>
<text x="1012.30" y="200.80" font-size="21" text-anchor="start" >rs719338</text>
<text x="1128.40" y="199.30" font-size="21" text-anchor="start" >rs72931898</text>
<text x="900.00" y="225.30" font-size="21" text-anchor="start" >rs2046210</text>
<text x="1008.40" y="231.60" font-size="21" text-anchor="start" >rs762131501</text>
<text x="1141.70" y="235.10" font-size="21" text-anchor="start" >rs12628403</text>
<text x="794.20" y="242.40" font-size="21" text-anchor="start" >rs1707302</text>
<text x="1018.20" y="259.90" font-size="21" text-anchor="start" >rs4980029</text>
<path d="M759.2 308.94H1247.5" stroke="#000" stroke-width="1.9" stroke-dasharray="6.2 5.84" fill="none"/>
<text x="1258.50" y="37.00" font-size="25" text-anchor="start" >Chromosome</text>
<circle cx="1288.60" cy="62.70" r="2.4" fill="#F8766D"/>
<text x="1303.00" y="69.50" font-size="25" text-anchor="start" >1</text>
<circle cx="1288.60" cy="88.78" r="2.4" fill="#00BFC4"/>
<text x="1303.00" y="95.58" font-size="25" text-anchor="start" >2</text>
<circle cx="1288.60" cy="114.86" r="2.4" fill="#7C96FF"/>
<text x="1303.00" y="121.66" font-size="25" text-anchor="start" >3</text>
<circle cx="1288.60" cy="140.94" r="2.4" fill="#B385FF"/>
<text x="1303.00" y="147.74" font-size="25" text-anchor="start" >4</text>
<circle cx="1288.60" cy="167.02" r="2.4" fill="#D874FD"/>
<text x="1303.00" y="173.82" font-size="25" text-anchor="start" >5</text>
<circle cx="1288.60" cy="193.10" r="2.4" fill="#EF67EB"/>
<text x="1303.00" y="199.90" font-size="25" text-anchor="start" >6</text>
<circle cx="1288.60" cy="219.18" r="2.4" fill="#FD61D3"/>
<text x="1303.00" y="225.98" font-size="25" text-anchor="start" >7</text>
<circle cx="1288.60" cy="245.26" r="2.4" fill="#FF63B6"/>
<text x="1303.00" y="252.06" font-size="25" text-anchor="start" >8</text>
<circle cx="1288.60" cy="271.34" r="2.4" fill="#FF6B94"/>
<text x="1303.00" y="278.14" font-size="25" text-anchor="start" >9</text>
<circle cx="1288.60" cy="297.42" r="2.4" fill="#EC8239"/>
<text x="1303.00" y="304.22" font-size="25" text-anchor="start" >10</text>
<circle cx="1288.60" cy="323.50" r="2.4" fill="#DB8E00"/>
<text x="1303.00" y="330.30" font-size="25" text-anchor="start" >11</text>
<circle cx="1355.10" cy="62.70" r="2.4" fill="#C79800"/>
<text x="1369.50" y="69.50" font-size="25" text-anchor="start" >12</text>
<circle cx="1355.10" cy="88.78" r="2.4" fill="#AEA200"/>
<text x="1369.50" y="95.58" font-size="25" text-anchor="start" >13</text>
<circle cx="1355.10" cy="114.86" r="2.4" fill="#8FAA00"/>
<text x="1369.50" y="121.66" font-size="25" text-anchor="start" >14</text>
<circle cx="1355.10" cy="140.94" r="2.4" fill="#64B200"/>
<text x="1369.50" y="147.74" font-size="25" text-anchor="start" >15</text>
<circle cx="1355.10" cy="167.02" r="2.4" fill="#00B81B"/>
<text x="1369.50" y="173.82" font-size="25" text-anchor="start" >16</text>
<circle cx="1355.10" cy="193.10" r="2.4" fill="#00BD5C"/>
<text x="1369.50" y="199.90" font-size="25" text-anchor="start" >17</text>
<circle cx="1355.10" cy="219.18" r="2.4" fill="#00C085"/>
<text x="1369.50" y="225.98" font-size="25" text-anchor="start" >18</text>
<circle cx="1355.10" cy="245.26" r="2.4" fill="#00C1A7"/>
<text x="1369.50" y="252.06" font-size="25" text-anchor="start" >19</text>
<circle cx="1355.10" cy="271.34" r="2.4" fill="#00BADE"/>
<text x="1369.50" y="278.14" font-size="25" text-anchor="start" >20</text>
<circle cx="1355.10" cy="297.42" r="2.4" fill="#00B2F3"/>
<text x="1369.50" y="304.22" font-size="25" text-anchor="start" >21</text>
<circle cx="1355.10" cy="323.50" r="2.4" fill="#00A6FF"/>
<text x="1369.50" y="330.30" font-size="25" text-anchor="start" >22</text>
</svg></body></html>
